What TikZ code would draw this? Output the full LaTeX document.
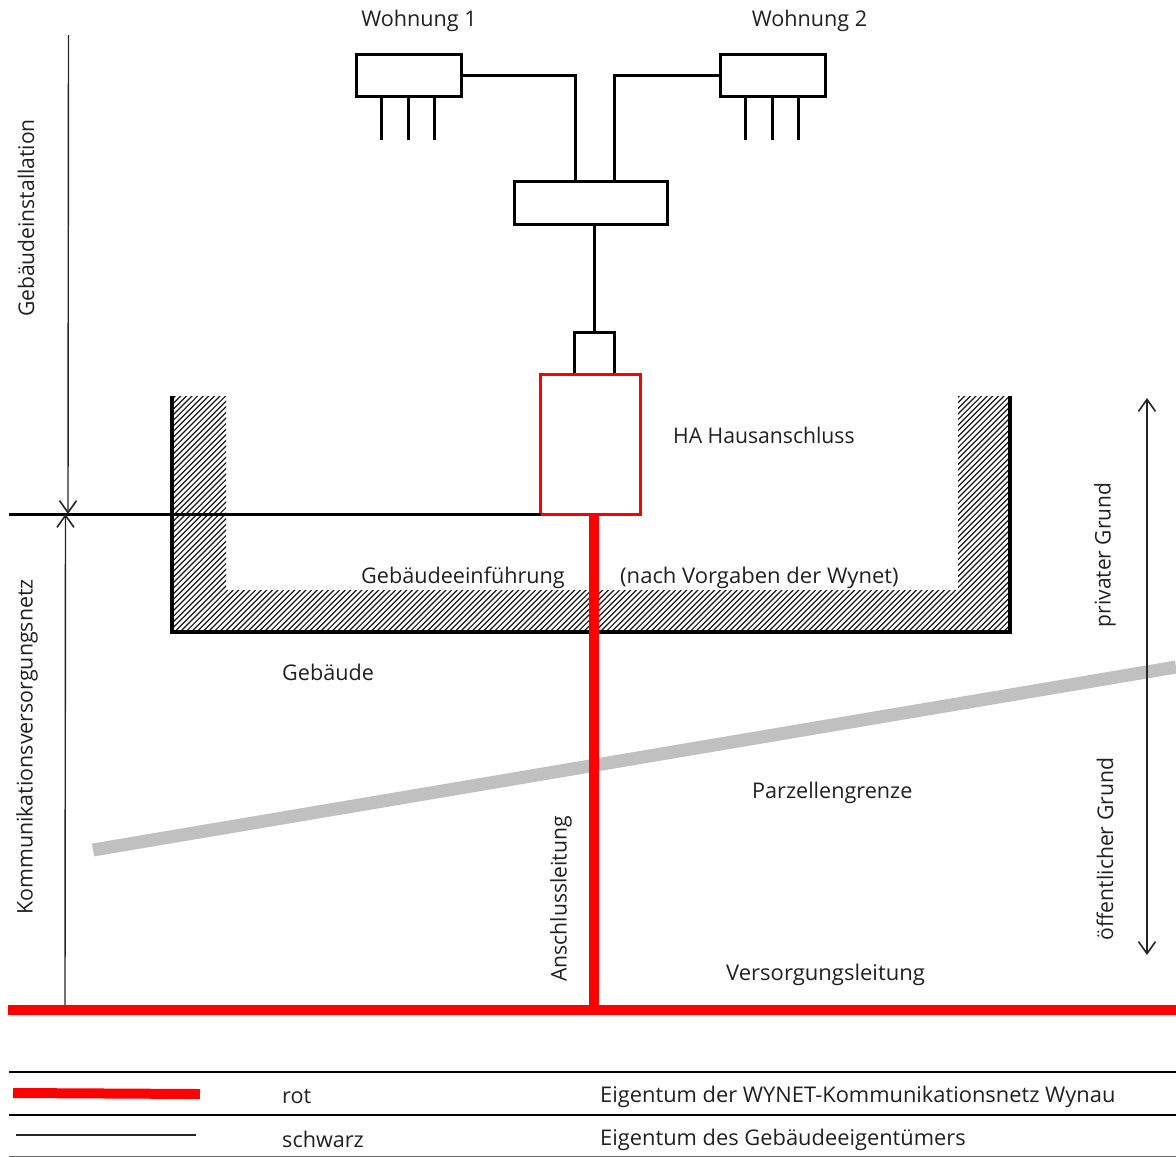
\documentclass[tikz,border=0pt]{standalone}
\usepackage{fontspec}
\setmainfont{Open Sans}
\usetikzlibrary{arrows.meta}
\definecolor{txt}{HTML}{202020}
\definecolor{grenze}{HTML}{C0C0C0}
\tikzset{
  x=1pt,y=-1pt,
  blackbox/.style={draw=black,line width=3pt,fill=white,inner sep=0pt,outer sep=0pt,minimum width=#1},
  wire/.style={line width=3pt,black},
  redline/.style={line width=10pt,red},
  dimline/.style={line width=1.4pt,black!85,{Straight Barb[length=12pt,width=17pt,line width=1.6pt]}-{Straight Barb[length=12pt,width=17pt,line width=1.6pt]}},
  dimhead/.style={line width=1.4pt,black!85,-{Straight Barb[length=12pt,width=17pt,line width=1.6pt]}},
  label/.style={font=\fontsize{21.6pt}{24pt}\selectfont,text=txt,inner sep=0pt},
  rule/.style={line width=2.6pt,black},
}
\begin{document}
\begin{tikzpicture}
\useasboundingbox (0,0) rectangle (1176,1157);
% hatching
\begin{scope}
\clip (172,396) -- (226,396) -- (226,590) -- (958,590) -- (958,396) -- (1010,396) -- (1010,632) -- (172,632) -- cycle;
\foreach \k in {0,5.6,...,1100}
  \draw[line width=1.2pt,black!90] (172+\k,640) -- (172+\k+250,390);
\foreach \k in {5.6,11.2,...,250}
  \draw[line width=1.2pt,black!90] (172-\k,640) -- (172-\k+250,390);
\end{scope}
\draw[line width=3.4pt,black] (172,396) -- (172,632) -- (1010,632) -- (1010,396);
% Parzellengrenze
\coordinate (gs) at (93,850);
\coordinate (ge) at (1176,667);
\draw[line width=13pt,grenze] (gs) -- (ge);
% boxes
\node[blackbox=105.5pt,minimum height=42pt] (w1) at (408.8,75) {};
\node[blackbox=105.5pt,minimum height=42pt] (w2) at (772.8,75) {};
\node[blackbox=153.5pt,minimum height=43pt] (vert) at (590.8,203.3) {};
\node[blackbox=40pt,minimum height=42pt] (klein) at (594.8,353) {};
\node[draw=red,line width=3pt,fill=white,inner sep=0pt,outer sep=0pt,minimum width=100pt,minimum height=140pt] (ha) at (590.8,444) {};
% stubs
\foreach \n/\d in {a/-27,b/0,c/26}{
  \coordinate (w1\n) at ([xshift=\d pt]w1.south);
  \coordinate (w1\n e) at ([xshift=\d pt,yshift=-44pt]w1.south);
  \draw[wire] (w1\n) -- (w1\n e);
  \coordinate (w2\n) at ([xshift=\d pt]w2.south);
  \coordinate (w2\n e) at ([xshift=\d pt,yshift=-44pt]w2.south);
  \draw[wire] (w2\n) -- (w2\n e);
}
% wires
\coordinate (v1) at (575.8,182);
\coordinate (v2) at (614,182);
\draw[wire] (w1.east) -| (v1);
\draw[wire] (w2.west) -| (v2);
\draw[wire] (klein.north) -- (klein.north |- vert.south);
% main horizontal
\coordinate (ls) at (9,514);
\draw[wire] (ls) -- (ha.south west);
% red
\coordinate (rl) at (8,1010);
\coordinate (rr) at (1176,1010);
\coordinate (rt) at (594,514);
\coordinate (rb) at (594,1010);
\draw[redline] (rl) -- (rr);
\draw[redline] (rt) -- (rb);
% dimension arrows
\coordinate (d1a) at (68.5,35);
\coordinate (d1b) at (68,514);
\coordinate (d2a) at (65,1005);
\coordinate (d2b) at (65.5,514);
\draw[dimhead] (d1a) -- (d1b);
\draw[dimhead] (d2a) -- (d2b);
\coordinate (d3a) at (1147,398);
\coordinate (d3b) at (1147,955);
\draw[dimline] (d3a) -- (d3b);
% labels
\node[label] (t1) at (419,21) {Wohnung 1};
\node[label] (t2) at (809.5,21) {Wohnung 2};
\node[label,anchor=west,xscale=0.98] (t3) at (673,435.5) {HA Hausanschluss};
\node[label,anchor=west] (t4) at (361,578) {Gebäudeeinführung};
\node[label,anchor=west,xscale=1.02] (t5) at (620,578) {(nach Vorgaben der Wynet)};
\node[label,anchor=west] (t6) at (282,672) {Gebäude};
\node[label,anchor=west] (t7) at (752,793) {Parzellengrenze};
\node[label,anchor=west,xscale=1.02] (t8) at (726,975) {Versorgungsleitung};
\node[label,rotate=90,xscale=0.975] (t9) at (26,218) {Gebäudeinstallation};
\node[label,rotate=90,xscale=0.99] (t10) at (27,747) {Kommunikationsversorgungsnetz};
\node[label,rotate=90,xscale=0.98] (t11) at (561,899) {Anschlussleitung};
\node[label,rotate=90,xscale=0.97] (t12) at (1105,555) {privater Grund};
\node[label,rotate=90,xscale=0.98] (t13) at (1105,849) {öffentlicher Grund};
% legend
\coordinate (la1) at (9,1072); \coordinate (la2) at (1176,1072);
\coordinate (lb1) at (9,1115); \coordinate (lb2) at (1176,1115);
\coordinate (lc1) at (9,1156.3); \coordinate (lc2) at (1176,1156.3);
\draw[rule] (la1) -- (la2);
\draw[rule] (lb1) -- (lb2);
\draw[line width=1pt,black!60] (lc1) -- (lc2);
\coordinate (r1) at (13,1093); \coordinate (r2) at (200,1094);
\draw[line width=10pt,red] (r1) -- (r2);
\coordinate (s1) at (16,1135); \coordinate (s2) at (196,1135);
\draw[line width=2.8pt,black!85] (s1) -- (s2);
\node[label,anchor=west] (t14) at (282,1096) {rot};
\node[label,anchor=west] (t15) at (282,1139) {schwarz};
\node[label,anchor=west,xscale=1.012] (t16) at (600,1097) {Eigentum der WYNET-Kommunikationsnetz Wynau};
\node[label,anchor=west,xscale=1.012] (t17) at (600,1140) {Eigentum des Gebäudeeigentümers};
\end{tikzpicture}
\end{document}
